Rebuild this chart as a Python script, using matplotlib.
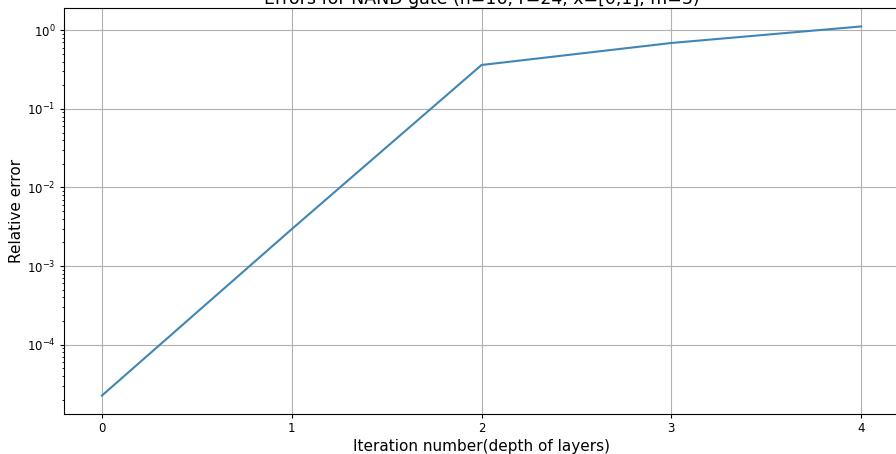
import matplotlib
matplotlib.use("Agg")
import matplotlib.pyplot as plt

iterations = [0, 1, 2, 3, 4]
rel_error = [2.25e-5, 2.95e-3, 0.362, 0.69, 1.12]
title = "Errors for NAND gate (n=16, r=24, x=[0,1], m=3)"

fig = plt.figure(figsize=(8.96, 4.54), dpi=100)
ax = fig.add_axes([64/896, 1-414/454, (899-64)/896, (414-8)/454])
ax.plot(iterations, rel_error, color="#3f86b8", linewidth=1.5)
ax.set_yscale("log")
ax.grid(True, which="major", color="#b0b0b0", linewidth=0.8)
ax.set_xticks(iterations)
ax.tick_params(labelsize=8.5, length=3, pad=3)
ax.tick_params(which="minor", length=1.8)
ax.set_xlabel("Iteration number(depth of layers)", fontsize=11, labelpad=3)
ax.set_ylabel("Relative error", fontsize=11, labelpad=2)
ax.set_title(title, fontsize=12.5, pad=1.5)
fig.savefig("out.png", dpi=100)
